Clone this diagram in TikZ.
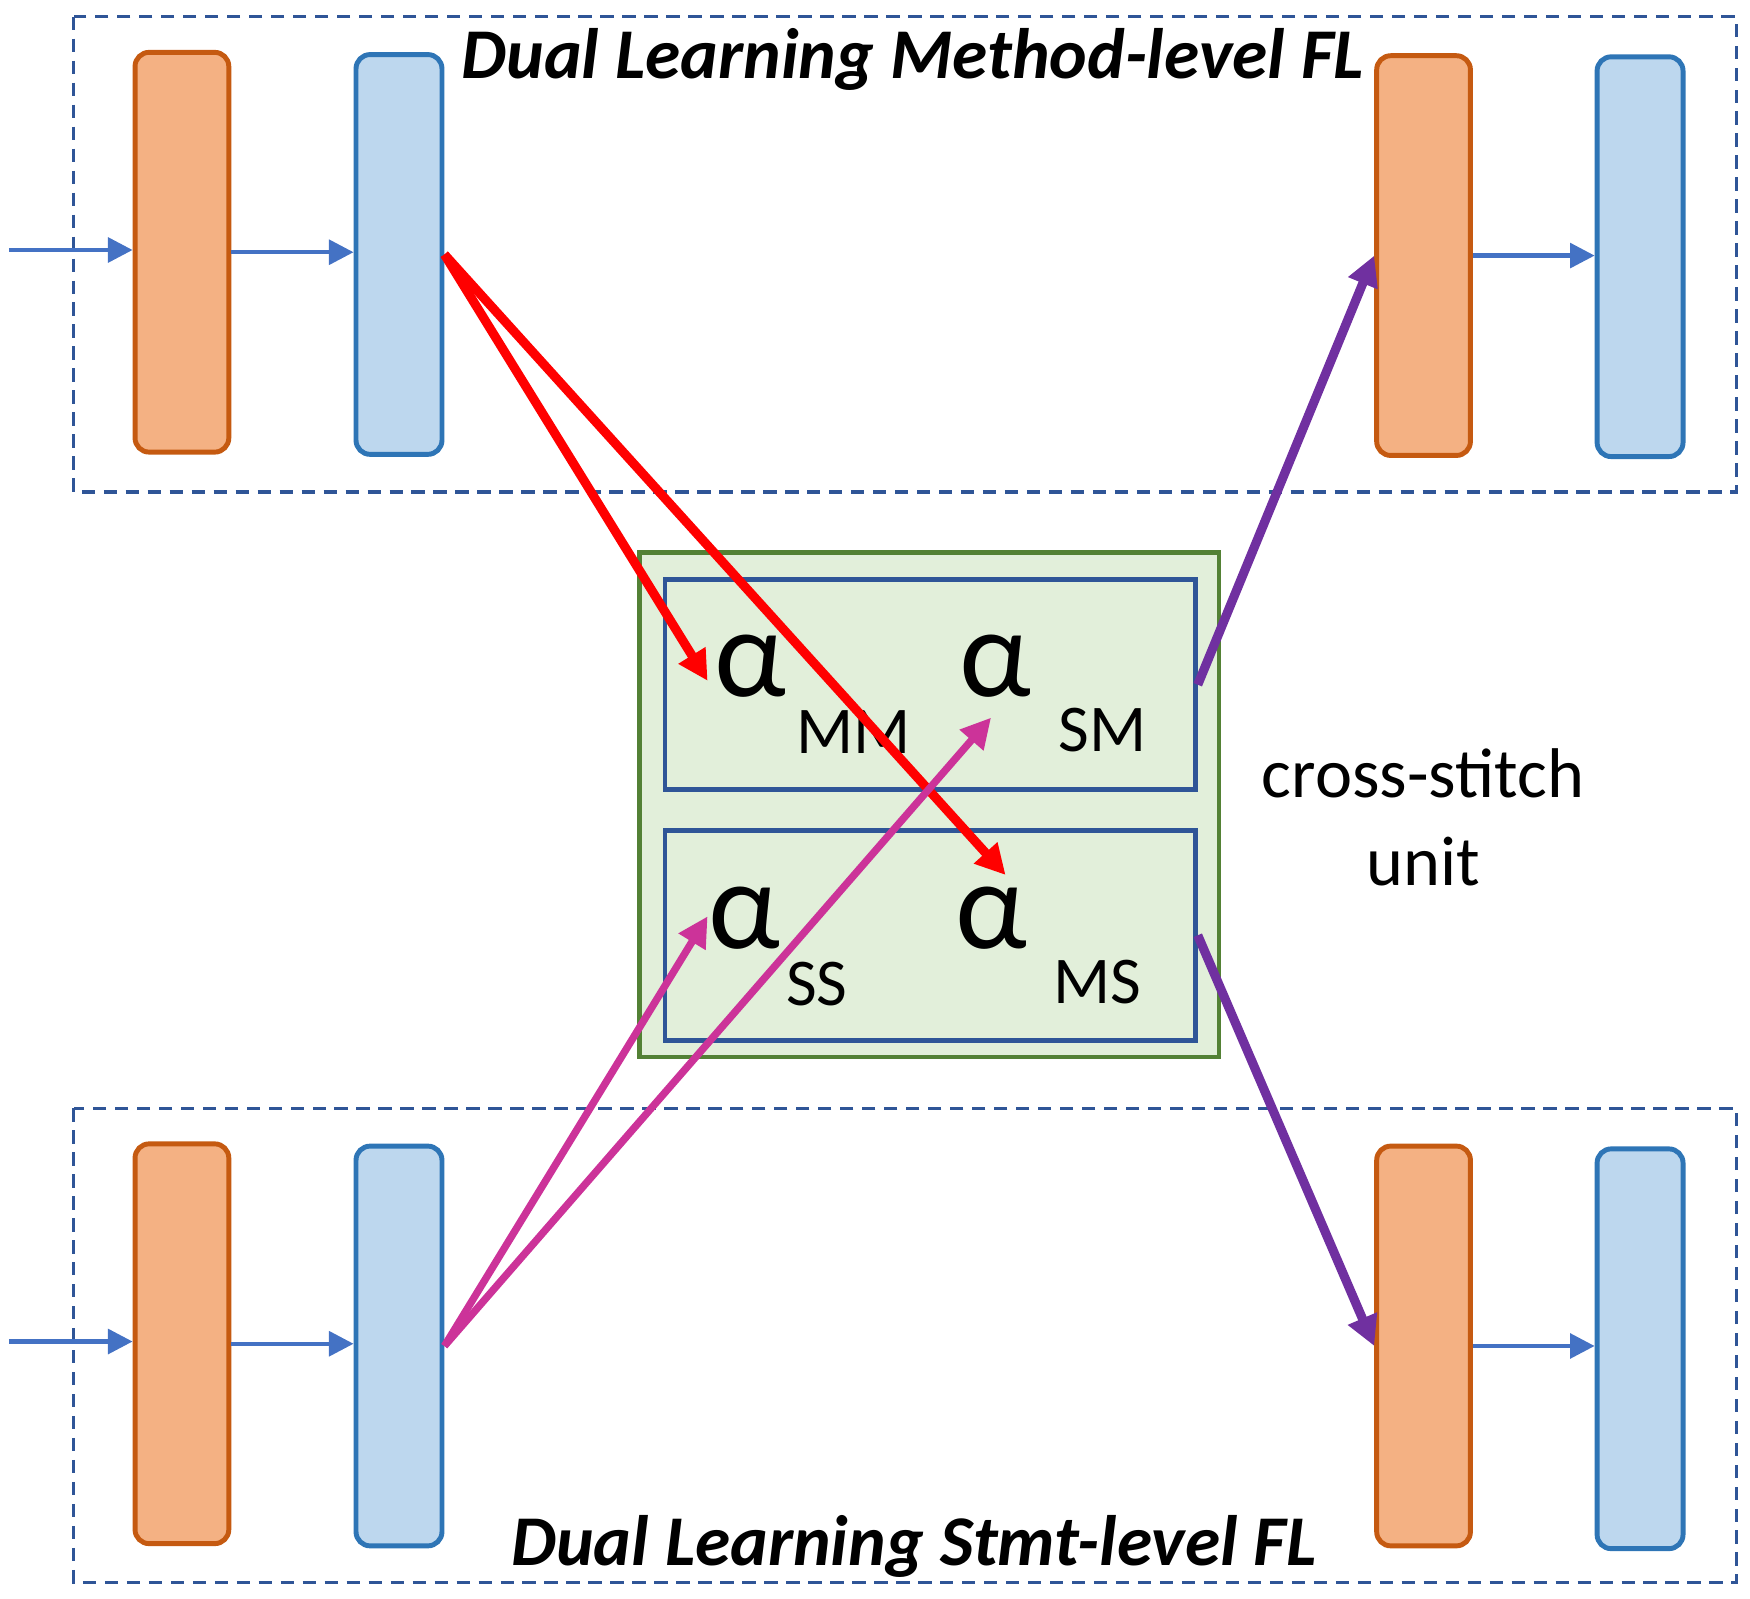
\documentclass[tikz,border=0pt]{standalone}
\usepackage{fontspec}
\setmainfont{Carlito}
\usetikzlibrary{arrows.meta}
\definecolor{orfill}{HTML}{F4B183}
\definecolor{orline}{HTML}{C55A11}
\definecolor{blfill}{HTML}{BDD7EE}
\definecolor{blline}{HTML}{2E75B6}
\definecolor{flowblue}{HTML}{4472C4}
\definecolor{dashblue}{HTML}{2F5597}
\definecolor{grfill}{HTML}{E2EFDA}
\definecolor{grline}{HTML}{538135}
\definecolor{redarr}{HTML}{FF0000}
\definecolor{magarr}{HTML}{CC3399}
\definecolor{purarr}{HTML}{7030A0}
\begin{document}
\begin{tikzpicture}[x=0.01116cm,y=-0.01116cm,
  orangelayer/.style={draw=orline, fill=orfill, line width=1.4pt, rounded corners=4pt,
     minimum width=0.937cm, minimum height=3.995cm, inner sep=0pt},
  bluelayer/.style={draw=blline, fill=blfill, line width=1.4pt, rounded corners=4pt,
     minimum width=0.859cm, minimum height=3.995cm, inner sep=0pt},
  frame/.style={draw=dashblue, line width=1pt, dash pattern=on 3.8pt off 2.45pt},
  flow/.style={draw=flowblue, line width=1.2pt, -{Triangle[length=7pt,width=7pt]}},
  redarrow/.style={draw=redarr, line width=2.6pt, -{Triangle[length=8.5pt,width=8.5pt]}},
  magarrow/.style={draw=magarr, line width=2.1pt, -{Triangle[length=8.5pt,width=8.5pt]}},
  purarrow/.style={draw=purarr, line width=2.6pt, -{Triangle[length=8.5pt,width=8.5pt]}},
  greenbox/.style={draw=grline, fill=grfill, line width=1.3pt, inner sep=0pt},
  innerbox/.style={draw=dashblue, line width=1.3pt, inner sep=0pt,
     minimum width=5.301cm, minimum height=2.098cm},
  title/.style={font=\fontsize{20.3pt}{24pt}\selectfont\bfseries\itshape, inner sep=0pt, anchor=base},
  alphatext/.style={font=\fontsize{36pt}{40pt}\selectfont, inner sep=0pt, anchor=base},
  subtext/.style={font=\fontsize{19pt}{23pt}\selectfont, inner sep=0pt, anchor=base},
  plain/.style={font=\fontsize{20pt}{24pt}\selectfont, inner sep=0pt, anchor=base}
]
\useasboundingbox (0,0) rectangle (1568,1432);

% dashed frames
\draw[frame] (66,15) rectangle (1556,441);
\draw[frame] (66,993) rectangle (1556,1418);

% cross-stitch unit
\node[greenbox, minimum width=5.792cm, minimum height=5.044cm] (gbox) at (832.5,721) {};
\node[innerbox] (itop) at (833.5,613.5) {};
\node[innerbox] (ibot) at (833.5,838) {};

% layers
\node[orangelayer] (o1) at (163,226) {};
\node[bluelayer]   (b1) at (357.5,228) {};
\node[orangelayer] (o2) at (1275.5,229) {};
\node[bluelayer]   (b2) at (1469.5,230) {};
\node[orangelayer] (o3) at (163,1204) {};
\node[bluelayer]   (b3) at (357.5,1206) {};
\node[orangelayer] (o4) at (1275.5,1206) {};
\node[bluelayer]   (b4) at (1469.5,1208.5) {};

% titles
\node[title] (t1) at (818,70) {Dual Learning Method-level FL};
\node[title] (t2) at (819,1403) {Dual Learning Stmt-level FL};

% alpha labels
\node[alphatext] (aMM) at (672,624) {α};
\node[subtext]   (sMM) at (765,675) {MM};
\node[alphatext] (aSM) at (892,624) {α};
\node[subtext]   (sSM) at (988,673) {SM};
\node[alphatext] (aSS) at (667,850) {α};
\node[subtext]   (sSS) at (732,901) {SS};
\node[alphatext] (aMS) at (888,850) {α};
\node[subtext]   (sMS) at (983,899) {MS};

\node[plain] (cs1) at (1275,715) {cross-stitch};
\node[plain] (cs2) at (1275,793) {unit};

% flow arrows
\coordinate (in1) at (8,224);
\coordinate (in2) at (8,1202);
\draw[flow] (in1) -- (in1 -| o1.west);
\draw[flow] (o1.east) -- (o1.east -| b1.west);
\draw[flow] (o2.east) -- (o2.east -| b2.west);
\draw[flow] (in2) -- (in2 -| o3.west);
\draw[flow] (o3.east) -- (o3.east -| b3.west);
\draw[flow] (o4.east) -- (o4.east -| b4.west);

% arrow tips near alphas
\coordinate (tMM) at (634,610);
\coordinate (tMS) at (901,784);
\coordinate (tSM) at (888,643);
\coordinate (tSS) at (634,821);

\draw[redarrow] (b1.east) -- (tMM);
\draw[redarrow] (b1.east) -- (tMS);
\draw[magarrow] (b3.east) -- (tSS);
\draw[magarrow] (b3.east) -- (tSM);
\draw[purarrow] (itop.east) -- (o2.west);
\draw[purarrow] (ibot.east) -- (o4.west);
\end{tikzpicture}
\end{document}
